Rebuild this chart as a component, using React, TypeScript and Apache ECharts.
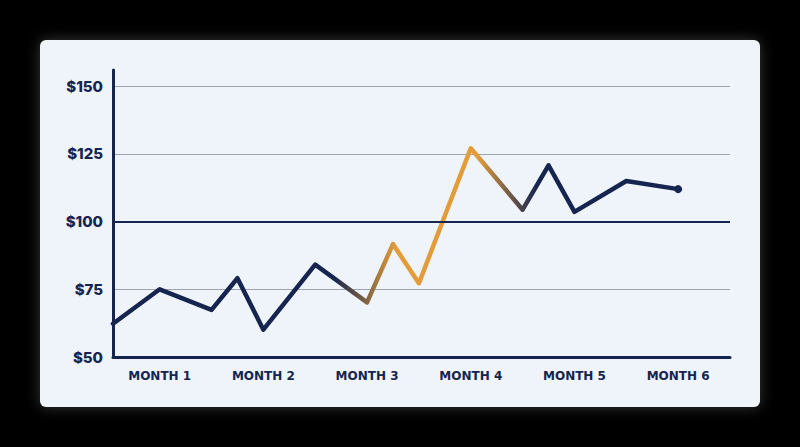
import { useEffect, useRef } from "react";
import * as echarts from "echarts";

const monthTicks = [1, 2, 3, 4, 5, 6];
const pointPositions = [0.55, 1, 1.5, 1.75, 2, 2.5, 3, 3.25, 3.5, 4, 4.5, 4.75, 5, 5.5, 6];
const prices = [62.3, 75, 67.4, 79.1, 60.1, 84.1, 70.2, 91.7, 77.2, 127.1, 104.4, 120.8, 103.6, 115, 112];

const NAVY = "#15254f";
const ORANGE = "#e29d3a";

export default function App(): JSX.Element {
  const rootRef = useRef<HTMLDivElement | null>(null);

  useEffect(() => {
    if (!rootRef.current) return undefined;
    const chart = echarts.init(rootRef.current, undefined, { renderer: "svg" });

    const lastIndex = prices.length - 1;
    const seriesData = pointPositions.map((x, i) => ({
      value: [x, prices[i]],
      symbol: i === lastIndex ? "circle" : "none",
      symbolSize: i === lastIndex ? 8 : 0
    }));

    const option: echarts.EChartsOption = {
      animation: false,
      backgroundColor: "#000000",
      graphic: [
        {
          type: "rect",
          z: -10,
          silent: true,
          shape: { x: 40, y: 40, width: 720, height: 367, r: 6 },
          style: {
            fill: "#eff3fa",
            shadowBlur: 14,
            shadowColor: "rgba(255,255,255,0.22)"
          }
        }
      ],
      grid: { left: 113, right: 70, top: 70, bottom: 90 },
      xAxis: {
        type: "value",
        min: 0.55,
        max: 6.5,
        axisLine: { show: true, lineStyle: { color: NAVY, width: 3 } },
        axisTick: { show: false },
        splitLine: { show: false },
        axisLabel: {
          customValues: monthTicks,
          formatter: (v: number) => `MONTH ${v}`,
          color: NAVY,
          fontFamily: "DejaVu Sans",
          fontWeight: 700,
          fontSize: 12,
          margin: 13
        }
      } as any,
      yAxis: {
        type: "value",
        min: 50,
        max: 156,
        interval: 25,
        axisLine: { show: true, lineStyle: { color: NAVY, width: 3 } },
        axisTick: { show: false },
        splitLine: {
          show: true,
          showMinLine: false,
          showMaxLine: false,
          lineStyle: { color: "#9ea3ad", width: 1 }
        },
        axisLabel: {
          showMaxLabel: false,
          formatter: (v: number) => (v % 25 === 0 ? `$${v}` : ""),
          color: NAVY,
          fontFamily: "Inter",
          fontWeight: 800,
          fontSize: 15,
          margin: 10
        }
      } as any,
      series: [
        {
          type: "line",
          data: seriesData,
          itemStyle: { color: NAVY },
          lineStyle: {
            width: 4.5,
            join: "round",
            cap: "round",
            color: new echarts.graphic.LinearGradient(0, 0, 1, 0, [
              { offset: 0, color: NAVY },
              { offset: 0.39, color: NAVY },
              { offset: 0.5, color: ORANGE },
              { offset: 0.645, color: ORANGE },
              { offset: 0.75, color: NAVY },
              { offset: 1, color: NAVY }
            ])
          } as any,
          markLine: {
            silent: true,
            symbol: "none",
            label: { show: false },
            lineStyle: { type: "solid", color: NAVY, width: 2 },
            data: [{ yAxis: 100 }]
          },
          z: 3
        }
      ]
    };

    chart.setOption(option);
    return () => chart.dispose();
  }, []);

  return (
    <div
      ref={rootRef}
      style={{ position: "fixed", left: 0, top: 0, width: 800, height: 447 }}
    />
  );
}
